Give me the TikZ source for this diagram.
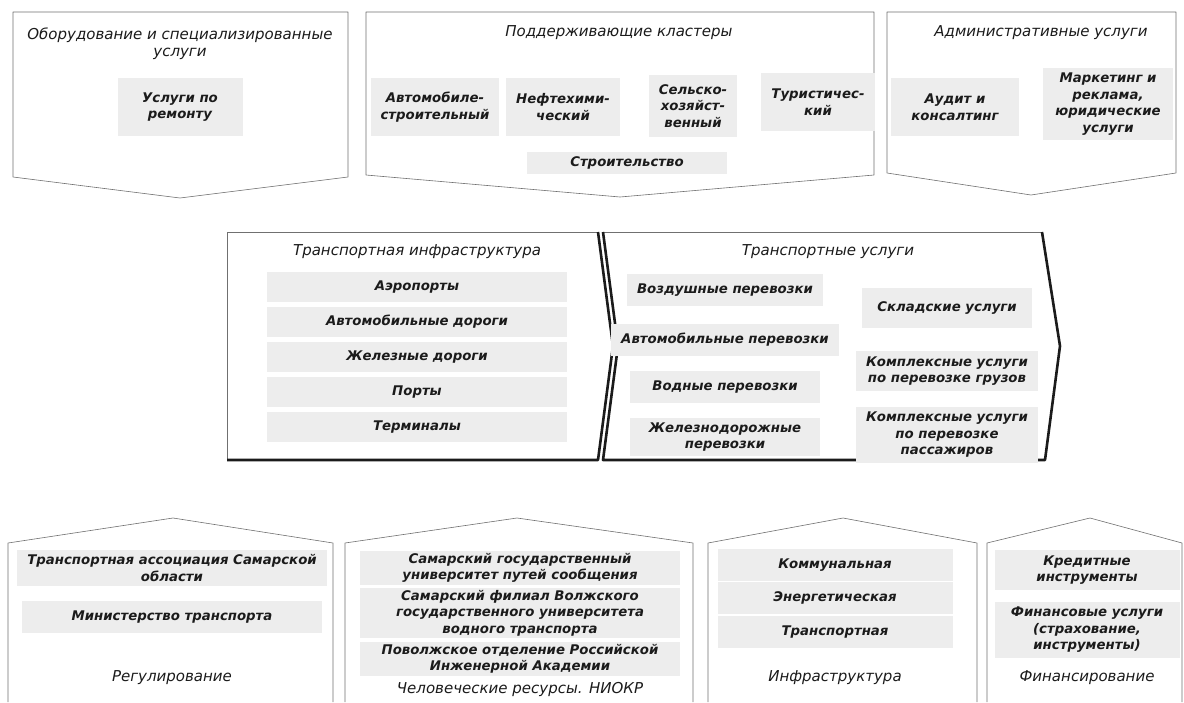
\documentclass[tikz,border=0pt]{standalone}
\usepackage{fontspec}
\setmainfont{DejaVu Sans}
\definecolor{ink}{HTML}{1B1B1B}
\definecolor{speck}{HTML}{EDEDED}
\definecolor{edge}{HTML}{707070}
\tikzset{
  frame/.style={draw=edge, line width=0.6pt, line join=round},
  heavyedge/.style={draw=ink, line width=2.6pt, line join=round},
  headtxt/.style={align=center, text=ink, inner sep=0pt,
                  font=\fontsize{15}{17}\selectfont\itshape},
  itembox/.style={fill=speck, align=center, text=ink, inner xsep=10pt, inner ysep=5pt,
                  font=\fontsize{13.3}{16.5}\selectfont\bfseries\itshape}}

\begin{document}
\begin{tikzpicture}[x=1pt,y=-1pt]
  \fill[white] (0,0) rectangle (1184,702);
  \useasboundingbox (0,0) rectangle (1184,702);

  % top row
  \draw[frame] (13,12) -- (348,12) -- (348,177) -- (180,198) -- (13,177) -- cycle;
  \draw[frame] (366,12) -- (874,12) -- (874,175) -- (620,197) -- (366,175) -- cycle;
  \draw[frame] (887,12) -- (1176,12) -- (1176,173) -- (1031,195) -- (887,173) -- cycle;

  \node[headtxt] (equipHead) at (180,44) {Оборудование и специализированные\\услуги};
  \node[itembox, minimum width=125pt, minimum height=58pt] (repair) at (180,107) {Услуги по\\ремонту};

  \node[headtxt] (clusterHead) at (619,33) {Поддерживающие кластеры};
  \node[itembox, minimum height=58pt] (autoInd) at (435,107) {Автомобиле-\\строительный};
  \node[itembox, minimum height=58pt] (petro) at (563,107) {Нефтехими-\\ческий};
  \node[itembox, minimum height=62pt] (agro) at (693,106) {Сельско-\\хозяйст-\\венный};
  \node[itembox, minimum height=58pt] (tourism) at (818,102) {Туристичес-\\кий};
  \node[itembox, minimum width=200pt] (building) at (627,163) {Строительство};

  \node[headtxt] (adminHead) at (1041,33) {Административные услуги};
  \node[itembox, minimum width=128pt, minimum height=58pt] (audit) at (955,107) {Аудит и\\консалтинг};
  \node[itembox, minimum width=130pt] (marketing) at (1108,104) {Маркетинг и\\реклама,\\юридические\\услуги};

  % middle row
  \draw[frame] (598,232) -- (227,232) -- (227,460);
  \draw[heavyedge] (227,460) -- (598,460) -- (613,346) -- (598,232);
  \draw[frame] (603,232) -- (1042,232);
  \draw[heavyedge] (603,232) -- (618,346) -- (603,460) -- (1045,460) -- (1060,346) -- (1042,232);

  \node[headtxt] (infraHead) at (417,252) {Транспортная инфраструктура};
  \foreach \nm/\yy/\txt in {airports/287/Аэропорты, roads/322/Автомобильные дороги,
      rails/357/Железные дороги, ports/392/Порты, terminals/427/Терминалы}
    \node[itembox, minimum width=300pt, minimum height=30pt] (\nm) at (417,\yy) {\txt};

  \node[headtxt] (serviceHead) at (828,252) {Транспортные услуги};
  \node[itembox, minimum width=190pt, minimum height=32pt] (airTr) at (725,290) {Воздушные перевозки};
  \node[itembox, minimum width=190pt, minimum height=32pt] (roadTr) at (725,340) {Автомобильные перевозки};
  \node[itembox, minimum width=190pt, minimum height=32pt] (waterTr) at (725,387) {Водные перевозки};
  \node[itembox, minimum width=190pt] (railTr) at (725,437) {Железнодорожные\\перевозки};
  \node[itembox, minimum width=170pt, minimum height=40pt] (storage) at (947,308) {Складские услуги};
  \node[itembox, minimum width=170pt] (cargo) at (947,371) {Комплексные услуги\\по перевозке грузов};
  \node[itembox, minimum width=170pt] (passeng) at (947,435) {Комплексные услуги\\по перевозке\\пассажиров};

  % bottom row
  \draw[frame] (8,702) -- (8,543) -- (173,518) -- (333,543) -- (333,702);
  \draw[frame] (345,702) -- (345,543) -- (517,518) -- (693,543) -- (693,702);
  \draw[frame] (708,702) -- (708,543) -- (843,518) -- (977,543) -- (977,702);
  \draw[frame] (987,702) -- (987,543) -- (1090,518) -- (1182,543) -- (1182,702);

  \node[itembox, minimum width=300pt] (assoc) at (172,568) {Транспортная ассоциация Самарской\\области};
  \node[itembox, minimum width=300pt, minimum height=32pt] (ministry) at (172,617) {Министерство транспорта};
  \node[headtxt] (regul) at (172,678) {Регулирование};

  \node[itembox, inner ysep=2pt, minimum width=320pt] (univ) at (520,568) {Самарский государственный\\университет путей сообщения};
  \node[itembox, inner ysep=2pt, minimum width=320pt] (branch) at (520,613) {Самарский филиал Волжского\\государственного университета\\водного транспорта};
  \node[itembox, inner ysep=2pt, minimum width=320pt] (academy) at (520,659) {Поволжское отделение Российской\\Инженерной Академии};
  \node[headtxt] (human) at (520,689) {Человеческие ресурсы. НИОКР};

  \node[itembox, minimum width=235pt, minimum height=32pt] (communal) at (835,565) {Коммунальная};
  \node[itembox, minimum width=235pt, minimum height=32pt] (energy) at (835,598) {Энергетическая};
  \node[itembox, minimum width=235pt, minimum height=32pt] (transp) at (835,632) {Транспортная};
  \node[headtxt] (infra) at (835,678) {Инфраструктура};

  \node[itembox, minimum width=185pt] (credit) at (1087,570) {Кредитные\\инструменты};
  \node[itembox, minimum width=185pt] (finserv) at (1087,630) {Финансовые услуги\\(страхование,\\инструменты)};
  \node[headtxt] (finance) at (1087,678) {Финансирование};
\end{tikzpicture}
\end{document}
